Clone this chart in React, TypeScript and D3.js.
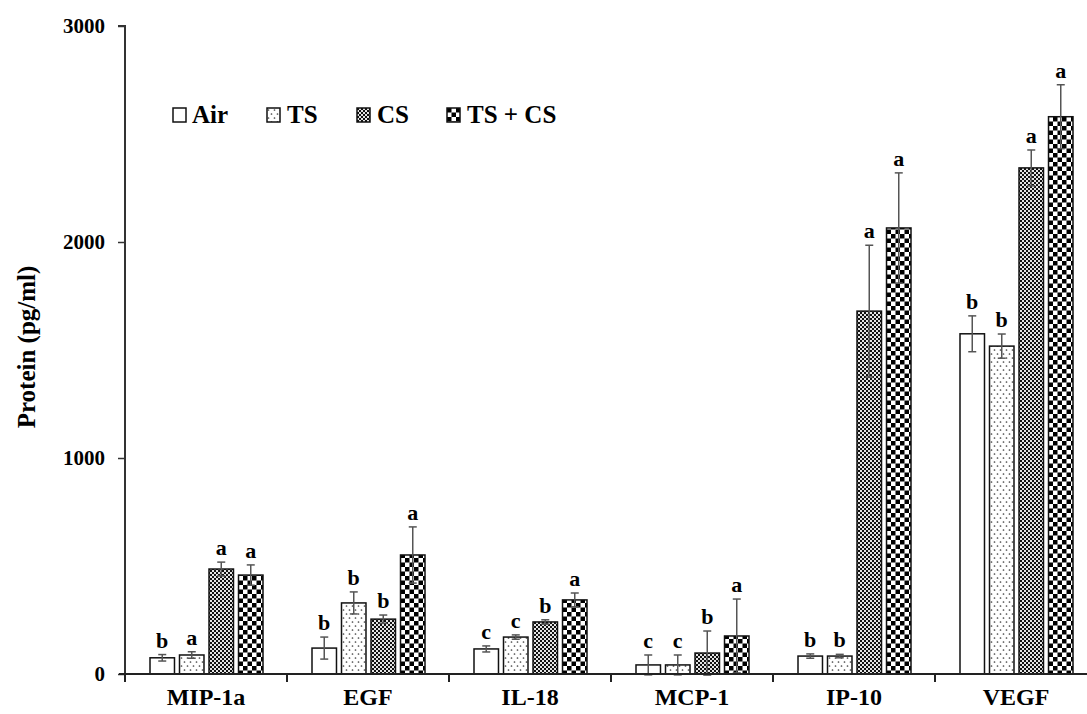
import { useEffect, useRef } from 'react';
import * as d3 from 'd3';

const categories = ['MIP-1a', 'EGF', 'IL-18', 'MCP-1', 'IP-10', 'VEGF'];
const groups = ['Air', 'TS', 'CS', 'TS + CS'];

const airValues = [75, 120, 116, 42, 83, 1575];
const tsValues = [88, 329, 171, 42, 83, 1518];
const csValues = [486, 254, 241, 97, 1680, 2343];
const tscsValues = [458, 551, 343, 176, 2065, 2580];

const airErrors = [15, 51, 14, 46, 10, 83];
const tsErrors = [15, 51, 10, 46, 8, 56];
const csErrors = [32, 19, 10, 102, 305, 83];
const tscsErrors = [47, 130, 32, 171, 255, 148];

const airLetters = ['b', 'b', 'c', 'c', 'b', 'b'];
const tsLetters = ['a', 'b', 'c', 'c', 'b', 'b'];
const csLetters = ['a', 'b', 'b', 'b', 'a', 'a'];
const tscsLetters = ['a', 'a', 'a', 'a', 'a', 'a'];

const yTicks = [0, 1000, 2000, 3000];

const FONT = '"Liberation Serif", "Times New Roman", serif';

export default function App() {
  const svgRef = useRef<SVGSVGElement>(null);

  useEffect(() => {
    const width = 1087;
    const height = 714;
    const margin = { top: 26, left: 125 };
    const bandW = 162;
    const innerHeight = 648;

    const svg = d3.select(svgRef.current);
    svg.selectAll('*').remove();
    svg.attr('width', width).attr('height', height);

    // motifs de remplissage
    const defs = svg.append('defs');
    const pTS = defs.append('pattern').attr('id', 'p-ts')
      .attr('patternUnits', 'userSpaceOnUse').attr('width', 6).attr('height', 8);
    pTS.append('rect').attr('width', 6).attr('height', 8).attr('fill', 'white');
    pTS.append('circle').attr('cx', 1.5).attr('cy', 2).attr('r', 0.85).attr('fill', '#444');
    pTS.append('circle').attr('cx', 4.5).attr('cy', 6).attr('r', 0.85).attr('fill', '#444');

    const pCS = defs.append('pattern').attr('id', 'p-cs')
      .attr('patternUnits', 'userSpaceOnUse').attr('width', 4).attr('height', 4);
    pCS.append('rect').attr('width', 4).attr('height', 4).attr('fill', 'white');
    pCS.append('rect').attr('width', 2).attr('height', 2).attr('fill', '#111');
    pCS.append('rect').attr('x', 2).attr('y', 2).attr('width', 2).attr('height', 2).attr('fill', '#111');
    pCS.append('rect').attr('x', 2.6).attr('y', 0.6).attr('width', 0.8).attr('height', 0.8).attr('fill', '#555');
    pCS.append('rect').attr('x', 0.6).attr('y', 2.6).attr('width', 0.8).attr('height', 0.8).attr('fill', '#555');

    const pTC = defs.append('pattern').attr('id', 'p-tscs')
      .attr('patternUnits', 'userSpaceOnUse').attr('width', 9).attr('height', 9);
    pTC.append('rect').attr('width', 9).attr('height', 9).attr('fill', 'white');
    pTC.append('rect').attr('width', 4.5).attr('height', 4.5).attr('fill', '#000');
    pTC.append('rect').attr('x', 4.5).attr('y', 4.5).attr('width', 4.5).attr('height', 4.5).attr('fill', '#000');

    const fills = ['white', 'url(#p-ts)', 'url(#p-cs)', 'url(#p-tscs)'];
    const values = [airValues, tsValues, csValues, tscsValues];
    const errors = [airErrors, tsErrors, csErrors, tscsErrors];
    const letters = [airLetters, tsLetters, csLetters, tscsLetters];

    // échelles
    const x0 = d3.scaleBand().domain(categories)
      .range([margin.left, margin.left + bandW * categories.length]);
    const x1 = d3.scaleBand().domain(groups).range([25, 138]).paddingInner(0.17);
    const y = d3.scaleLinear().domain([0, 3000]).range([margin.top + innerHeight, margin.top]);

    const g = svg.append('g');

    // barres
    groups.forEach((grp, gi) => {
      categories.forEach((cat, ci) => {
        const v = values[gi][ci];
        const e = errors[gi][ci];
        const bx = x0(cat)! + x1(grp)!;
        const cx = bx + x1.bandwidth() / 2;
        g.append('rect')
          .attr('x', bx)
          .attr('y', y(v))
          .attr('width', x1.bandwidth())
          .attr('height', y(0) - y(v))
          .attr('fill', fills[gi])
          .attr('stroke', '#111')
          .attr('stroke-width', 1.5);

        // barres d'erreur
        g.append('line')
          .attr('x1', cx).attr('x2', cx)
          .attr('y1', y(v + e)).attr('y2', y(v - e))
          .attr('stroke', '#555').attr('stroke-width', 1.5);
        [v + e, v - e].forEach(val => {
          g.append('line')
            .attr('x1', cx - 4).attr('x2', cx + 4)
            .attr('y1', y(val)).attr('y2', y(val))
            .attr('stroke', '#555').attr('stroke-width', 1.5);
        });

        g.append('text')
          .attr('x', cx)
          .attr('y', y(v + e) - 7)
          .attr('text-anchor', 'middle')
          .style('font-family', FONT)
          .style('font-weight', 'bold')
          .style('font-size', '22px')
          .text(letters[gi][ci]);
      });
    });

    // axe Y
    const yAxis = svg.append('g')
      .attr('transform', `translate(${margin.left},0)`)
      .call(d3.axisLeft(y).tickValues(yTicks).tickFormat(d3.format('d')).tickSize(7).tickPadding(13));
    yAxis.select('.domain').attr('stroke', '#333').attr('stroke-width', 2)
      .attr('d', `M-7,${margin.top}H0V${y(0) + 8}`);
    yAxis.selectAll('.tick line').attr('stroke', '#333').attr('stroke-width', 1.5);
    yAxis.selectAll('.tick text')
      .style('font-family', FONT)
      .style('font-weight', 'bold')
      .style('font-size', '21px')
      .attr('fill', '#000');

    // axe X (graduations entre catégories)
    const xEnd = margin.left + bandW * categories.length;
    svg.append('line')
      .attr('x1', margin.left - 6).attr('x2', xEnd)
      .attr('y1', y(0)).attr('y2', y(0))
      .attr('stroke', '#222').attr('stroke-width', 2);
    categories.forEach(cat => {
      const tx = x0(cat)!;
      svg.append('line')
        .attr('x1', tx).attr('x2', tx)
        .attr('y1', y(0)).attr('y2', y(0) + 8)
        .attr('stroke', '#222').attr('stroke-width', 2);
      svg.append('text')
        .attr('x', tx + bandW / 2)
        .attr('y', 705)
        .attr('text-anchor', 'middle')
        .style('font-family', FONT)
        .style('font-weight', 'bold')
        .style('font-size', '24px')
        .text(cat);
    });

    // titre de l'axe Y
    svg.append('text')
      .attr('transform', `translate(35,347) rotate(-90)`)
      .attr('text-anchor', 'middle')
      .style('font-family', FONT)
      .style('font-weight', 'bold')
      .style('font-size', '25px')
      .text('Protein (pg/ml)');

    // légende
    const legendX = [173, 267, 357, 447];
    groups.forEach((grp, gi) => {
      const lg = svg.append('g').attr('transform', `translate(${legendX[gi]},108)`);
      lg.append('rect')
        .attr('width', 13).attr('height', 14)
        .attr('fill', fills[gi])
        .attr('stroke', '#111').attr('stroke-width', 1.5);
      lg.append('text')
        .attr('x', gi === 0 ? 19 : 20)
        .attr('y', 15)
        .style('font-family', FONT)
        .style('font-weight', 'bold')
        .style('font-size', '25px')
        .text(grp);
    });
  }, []);

  return (
    <svg ref={svgRef} style={{ position: 'absolute', left: 0, top: 0, background: 'white' }}></svg>
  );
}
